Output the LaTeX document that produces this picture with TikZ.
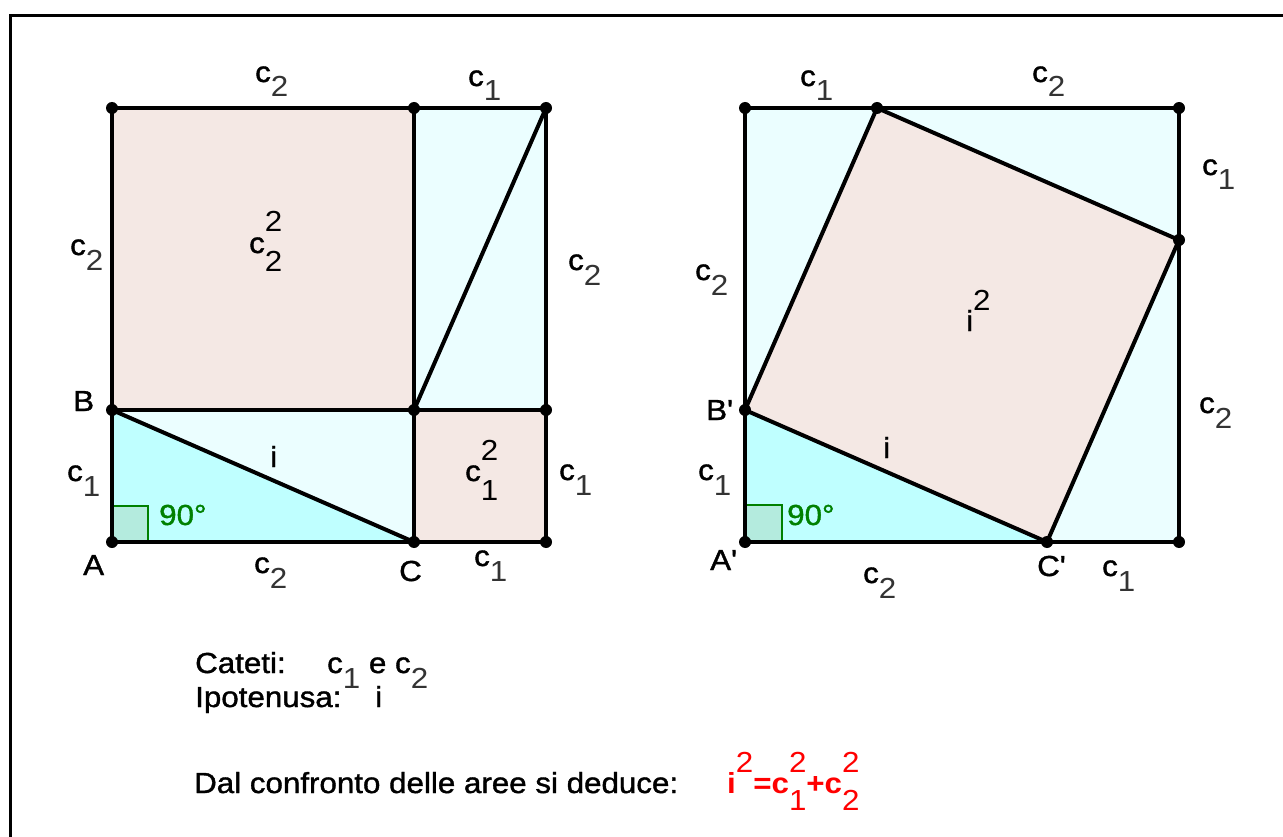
\documentclass[tikz,border=0pt]{standalone}
\usepackage{fontspec}
\setmainfont{Liberation Sans}[FakeStretch=1.08, FakeBold=1.3]
\newfontfamily\subfont{Liberation Sans}[FakeStretch=1.08]
\newfontfamily\plainfont{Liberation Sans}[FakeStretch=1.08, FakeBold=1.3]
\newfontfamily\boldf{Liberation Sans Bold}[FakeStretch=1.08]
\definecolor{pinkf}{RGB}{244,232,228}
\definecolor{cyanl}{RGB}{235,254,255}
\definecolor{cyand}{RGB}{191,255,255}
\definecolor{angf}{RGB}{180,235,222}
\definecolor{ggreen}{RGB}{0,128,0}
\definecolor{fred}{RGB}{255,0,0}
\newcommand\sbd[1]{\raisebox{-15pt}{\subfont\color{black!80}#1}}
\newcommand\sqd[1]{\rlap{\raisebox{-19pt}{\subfont #1}}\raisebox{21pt}{\subfont 2}}
\newcommand\apo{{\plainfont '}}
\begin{document}
\begin{tikzpicture}[x=1pt,y=-1pt,
  lbl/.style={anchor=base west, inner sep=0pt, font=\fontsize{29}{33}\selectfont},
  edge/.style={line width=4pt, line join=round, line cap=round},
  frame/.style={line width=3.3pt}]
\useasboundingbox (0,0) rectangle (1283,837);
% frame
\coordinate (f1) at (1283,15.5);
\coordinate (f2) at (10.7,15.5);
\coordinate (f3) at (10.7,837);
\draw[frame] (f1) -- (f2) -- (f3);
% ---------- left figure points
\coordinate (P1) at (112,108);
\coordinate (P2) at (414,108);
\coordinate (P3) at (546,108);
\coordinate (B) at (112,410);
\coordinate (M) at (414,410);
\coordinate (P6) at (546,410);
\coordinate (A) at (112,542);
\coordinate (C) at (414,542);
\coordinate (P9) at (546,542);
% fills
\fill[pinkf] (P1) rectangle (M);
\fill[cyanl] (P2) rectangle (P6);
\fill[cyanl] (B) rectangle (C);
\fill[cyand] (A) -- (B) -- (C) -- cycle;
\fill[pinkf] (M) rectangle (P9);
\coordinate (aq1) at (148,542);
\coordinate (aq2) at (148,506);
\coordinate (aq3) at (112,506);
\filldraw[fill=angf, draw=ggreen, line width=1.5pt] (A) -- (aq1) -- (aq2) -- (aq3) -- cycle;
% edges
\draw[edge] (P1) -- (P3) -- (P9) -- (A) -- cycle;
\draw[edge] (P2) -- (C);
\draw[edge] (B) -- (P6);
\draw[edge] (M) -- (P3);
\draw[edge] (B) -- (C);
\foreach \p in {P1,P2,P3,B,M,P6,A,C,P9} \fill (\p) circle (6);
% ---------- right figure points
\coordinate (Q1) at (745,108);
\coordinate (Q2) at (877,108);
\coordinate (Q3) at (1179,108);
\coordinate (Q4) at (1179,240);
\coordinate (Bp) at (745,410);
\coordinate (Ap) at (745,542);
\coordinate (Cp) at (1047,542);
\coordinate (Q8) at (1179,542);
\fill[cyanl] (Q1) rectangle (Q8);
\fill[cyand] (Ap) -- (Bp) -- (Cp) -- cycle;
\fill[pinkf] (Bp) -- (Cp) -- (Q4) -- (Q2) -- cycle;
\coordinate (bq1) at (782,542);
\coordinate (bq2) at (782,505);
\coordinate (bq3) at (745,505);
\filldraw[fill=angf, draw=ggreen, line width=1.5pt] (Ap) -- (bq1) -- (bq2) -- (bq3) -- cycle;
\draw[edge] (Q1) -- (Q3) -- (Q8) -- (Ap) -- cycle;
\draw[edge] (Bp) -- (Cp) -- (Q4) -- (Q2) -- cycle;
\foreach \p in {Q1,Q2,Q3,Q4,Bp,Ap,Cp,Q8} \fill (\p) circle (6);
% ---------- left labels
\node[lbl] (l1) at (255,82) {c\sbd{2}};
\node[lbl] (l2) at (468,86) {c\sbd{1}};
\node[lbl] (l3) at (70,255) {c\sbd{2}};
\node[lbl] (l4) at (249,253) {c\sqd{2}};
\node[lbl] (l5) at (568,270) {c\sbd{2}};
\node[lbl] (lB) at (73,411) {B};
\node[lbl] (l6) at (67,481) {c\sbd{1}};
\node[lbl] (l7) at (270,467) {i};
\node[lbl, text=ggreen] (l8) at (159,525) {90°};
\node[lbl] (l9) at (465,481) {c\sqd{1}};
\node[lbl] (l10) at (559,480) {c\sbd{1}};
\node[lbl] (lA) at (83,575) {A};
\node[lbl] (l11) at (254,573) {c\sbd{2}};
\node[lbl] (lC) at (399,581) {C};
\node[lbl] (l12) at (474,566) {c\sbd{1}};
% ---------- right labels
\node[lbl] (r1) at (800,86) {c\sbd{1}};
\node[lbl] (r2) at (1032,82) {c\sbd{2}};
\node[lbl] (r3) at (1202,175) {c\sbd{1}};
\node[lbl] (r4) at (695,280) {c\sbd{2}};
\node[lbl] (r5) at (966,331) {i\raisebox{21pt}{\subfont 2}};
\node[lbl] (rB) at (706,420) {B\apo};
\node[lbl] (r6) at (1199,413) {c\sbd{2}};
\node[lbl] (r7) at (883,458) {i};
\node[lbl] (r8) at (698,480) {c\sbd{1}};
\node[lbl, text=ggreen] (r9) at (787,525) {90°};
\node[lbl] (rA) at (710,570) {A\apo};
\node[lbl] (r10) at (863,583) {c\sbd{2}};
\node[lbl] (rC) at (1037,576) {C\apo};
\node[lbl] (r11) at (1102,576) {c\sbd{1}};
% ---------- text
\node[lbl] (t1) at (195,673) {Cateti:};
\node[lbl] (t2) at (327,673) {c\sbd{1} e c\sbd{2}};
\node[lbl] (t3) at (195,707) {Ipotenusa:};
\node[lbl] (t4) at (375,707) {i};
\node[lbl] (t5) at (194,793) {Dal confronto delle aree si deduce:};
\node[lbl, text=fred] (t6) at (727,793) {{\boldf i}\raisebox{21pt}{\subfont 2}{\boldf =c}\rlap{\raisebox{-17pt}{\subfont 1}}\raisebox{21pt}{\subfont 2}{\boldf +c}\rlap{\raisebox{-17pt}{\subfont 2}}\raisebox{21pt}{\subfont 2}};
\end{tikzpicture}
\end{document}
